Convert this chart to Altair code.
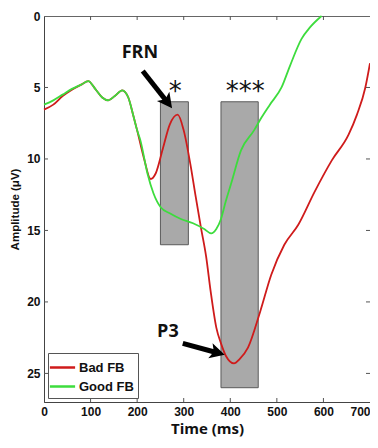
import altair as alt
import pandas as pd

# ---- data ----
time_bad = [0, 20, 40, 60, 80, 95, 110, 125, 138, 152, 168, 181, 192, 200, 215, 229, 240, 255, 270, 287,
            300, 315, 325, 337, 348, 358, 370, 380, 391, 408, 420, 438, 464, 488, 516, 546, 581, 618,
            654, 672, 690, 700]
amp_bad = [6.55, 6.2, 5.6, 5.15, 4.8, 4.55, 5.1, 5.7, 5.9, 5.6, 5.2, 5.7, 7.0, 8.0, 10.0, 11.4, 11.0, 9.3, 7.6, 6.9,
           8.0, 10.5, 12.5, 14.8, 16.8, 19.3, 21.8, 22.9, 23.8, 24.3, 24.0, 23.2, 20.7, 18.1, 16.0, 14.6, 12.3, 10.1,
           8.3, 6.9, 5.0, 3.3]

time_good = [0, 20, 40, 60, 80, 95, 110, 125, 138, 152, 168, 181, 192, 200, 207, 222, 235, 251, 270, 294,
             320, 344, 359, 370, 380, 390, 402, 423, 451, 467, 485, 510, 528, 553, 571, 596]
amp_good = [6.2, 5.9, 5.5, 5.1, 4.8, 4.55, 5.1, 5.7, 5.9, 5.6, 5.2, 5.7, 7.0, 8.0, 8.7, 11.0, 12.4, 13.4, 13.8, 14.2,
            14.5, 14.9, 15.2, 14.9, 14.2, 13.0, 11.7, 9.4, 8.0, 7.1, 6.2, 5.0, 3.5, 1.6, 0.8, 0.0]

series_names = ["Bad FB", "Good FB"]
series_colors = ["#cf1b1b", "#3ddc3d"]

rect_x1 = [250, 380]
rect_x2 = [310, 460]
rect_y1 = [6, 6]
rect_y2 = [16, 26]

stars_text = ["*", "***"]
stars_x = [282, 432]
stars_y = [5.9, 5.9]

label_text = ["FRN", "P3"]
label_x = [206, 266]
label_y = [2.6, 22.1]

arrow_tail_x = [212, 298]
arrow_tail_y = [3.85, 22.9]
arrow_tip_x = [275, 388]
arrow_tip_y = [6.45, 23.7]
arrow_angle = [143, 106]

x_ticks = [0, 100, 200, 300, 400, 500, 600, 700]
y_ticks = [0, 5, 10, 15, 20, 25]
x_inner_ticks = [100, 200, 300, 400, 500, 600]
y_inner_ticks = [5, 10, 15, 20, 25]

W, H = 326, 386
LABEL_FONT = "Liberation Sans"

# ---- tables ----
lines_df = pd.concat([
    pd.DataFrame({"time": time_bad, "amp": amp_bad, "cond": series_names[0]}),
    pd.DataFrame({"time": time_good, "amp": amp_good, "cond": series_names[1]}),
])
rect_df = pd.DataFrame({"x1": rect_x1, "x2": rect_x2, "y1": rect_y1, "y2": rect_y2})
stars_df = pd.DataFrame({"t": stars_text, "time": stars_x, "amp": stars_y})
labels_df = pd.DataFrame({"t": label_text, "time": label_x, "amp": label_y})
arrows_df = pd.DataFrame({"x1": arrow_tail_x, "y1": arrow_tail_y, "tx": arrow_tip_x, "ty": arrow_tip_y,
                          "ang": arrow_angle})
# shaft stops inside the head
arrows_df["x2"] = arrows_df["x1"] + 0.8 * (arrows_df["tx"] - arrows_df["x1"])
arrows_df["y2"] = arrows_df["y1"] + 0.8 * (arrows_df["ty"] - arrows_df["y1"])
xt_df = pd.DataFrame({"time": x_inner_ticks})
yt_df = pd.DataFrame({"amp": y_inner_ticks})

xscale = alt.Scale(domain=[0, 700], nice=False, zero=False)
yscale = alt.Scale(domain=[0, 27], nice=False, zero=False, reverse=True)
XT = "Time (ms)"
YT = "Amplitude (\u03bcV)"

x_axis = alt.Axis(values=x_ticks, title=XT, labelFont=LABEL_FONT, labelFontSize=12, labelFontWeight="bold",
                  labelColor="#111", ticks=False, tickSize=0, labelPadding=4, domainColor="#444",
                  labelAlign={"condition": {"test": "datum.value >= 700", "value": "right"}, "value": "center"},
                  titleFont="Open Sans", titleFontSize=15, titleFontWeight="bold", titleColor="#111",
                  titlePadding=4, grid=False, labelFlush=False)
y_axis = alt.Axis(values=y_ticks, title=YT, labelFont=LABEL_FONT, labelFontSize=12, labelFontWeight="bold",
                  labelColor="#111", ticks=False, tickSize=0, labelPadding=4, domainColor="#444",
                  titleFont="Liberation Sans", titleFontSize=11.5, titleFontWeight="bold", titleColor="#111",
                  titlePadding=6, grid=False, labelFlush=False)

rects = alt.Chart(rect_df).mark_rect(fill="#a9a9a9", stroke="#5a5a5a", strokeWidth=1).encode(
    x=alt.X("x1:Q", scale=xscale, axis=x_axis, title=XT),
    x2="x2:Q",
    y=alt.Y("y1:Q", scale=yscale, axis=y_axis, title=YT),
    y2="y2:Q",
)

lines = alt.Chart(lines_df).mark_line(interpolate="monotone", strokeWidth=1.8).encode(
    x=alt.X("time:Q", scale=xscale, title=XT),
    y=alt.Y("amp:Q", scale=yscale, title=YT),
    color=alt.Color("cond:N", scale=alt.Scale(domain=series_names, range=series_colors),
                    legend=alt.Legend(orient="bottom-left", offset=4, title=None,
                                      symbolType="M-1.4,0L1.4,0", symbolSize=324,
                                      symbolStrokeWidth=2.5, labelFont=LABEL_FONT,
                                      labelFontSize=13, labelFontWeight="bold", labelColor="#111",
                                      padding=4, strokeColor="#555", fillColor="white", rowPadding=1,
                                      labelOffset=6, cornerRadius=0)),
    order=alt.Order("time:Q"),
)

stars = alt.Chart(stars_df).mark_text(font="DejaVu Sans", fontSize=26, baseline="alphabetic",
                                      color="#111").encode(
    x=alt.X("time:Q", scale=xscale, title=XT),
    y=alt.Y("amp:Q", scale=yscale, title=YT),
    text="t:N",
)

labels = alt.Chart(labels_df).mark_text(font="Open Sans", fontSize=18, fontWeight="bold", baseline="middle",
                                        color="#111").encode(
    x=alt.X("time:Q", scale=xscale, title=XT),
    y=alt.Y("amp:Q", scale=yscale, title=YT),
    text="t:N",
)

shafts = alt.Chart(arrows_df).mark_rule(strokeWidth=5, color="black", strokeCap="butt").encode(
    x=alt.X("x1:Q", scale=xscale, title=XT),
    y=alt.Y("y1:Q", scale=yscale, title=YT),
    x2="x2:Q",
    y2="y2:Q",
)

heads = alt.Chart(arrows_df).mark_point(shape="M0,0L0.55,1.05L0,0.8L-0.55,1.05Z", size=800, filled=True,
                                        color="black", opacity=1).encode(
    x=alt.X("tx:Q", scale=xscale, title=XT),
    y=alt.Y("ty:Q", scale=yscale, title=YT),
    angle=alt.Angle("ang:Q", scale=None),
)

top_ticks = alt.Chart(xt_df).mark_rule(color="#555").encode(
    x=alt.X("time:Q", scale=xscale, title=XT), y=alt.value(0), y2=alt.value(4))
bottom_ticks = alt.Chart(xt_df).mark_rule(color="#555").encode(
    x=alt.X("time:Q", scale=xscale, title=XT), y=alt.value(H), y2=alt.value(H - 4))
left_ticks = alt.Chart(yt_df).mark_rule(color="#555").encode(
    y=alt.Y("amp:Q", scale=yscale, title=YT), x=alt.value(0), x2=alt.value(4))
right_ticks = alt.Chart(yt_df).mark_rule(color="#555").encode(
    y=alt.Y("amp:Q", scale=yscale, title=YT), x=alt.value(W), x2=alt.value(W - 4))

chart = alt.layer(
    rects, lines, stars, labels, shafts, heads, top_ticks, bottom_ticks, left_ticks, right_ticks
).properties(
    width=W, height=H,
    autosize=alt.AutoSizeParams(type="none"),
    padding={"left": 36, "top": 8, "right": 0, "bottom": 38},
    background="white",
).configure_view(stroke="#666", strokeWidth=1)

chart.save("out.html", embed_options={"renderer": "svg", "actions": False})
